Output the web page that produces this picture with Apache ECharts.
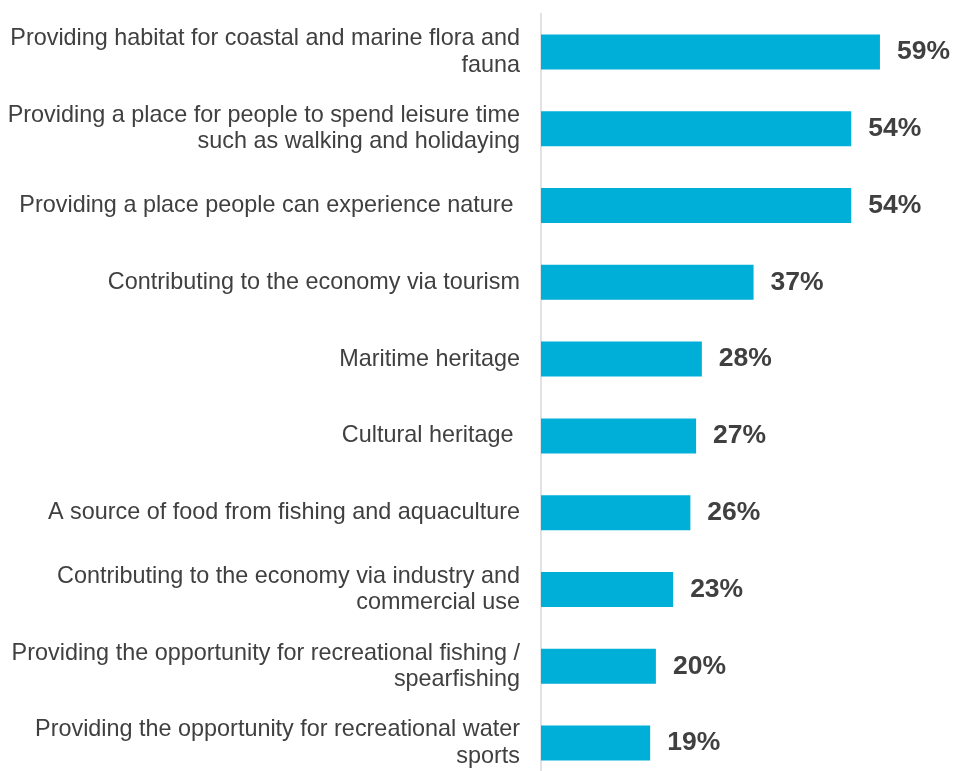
<!DOCTYPE html>
<html>
<head>
<meta charset="utf-8">
<script src="https://cdn.jsdelivr.net/npm/echarts@6/dist/echarts.min.js"></script>
<style>
  html, body { margin: 0; padding: 0; background: #ffffff; }
  #chart { width: 953px; height: 771px; }
</style>
</head>
<body>
<div id="chart"></div>
<script>
// Reasons the coast matters, share of respondents (%), top to bottom
const categories = [
  "Providing habitat for coastal and marine flora and\nfauna",
  "Providing a place for people to spend leisure time\nsuch as walking and holidaying",
  "Providing a place people can experience nature ",
  "Contributing to the economy via tourism",
  "Maritime heritage",
  "Cultural heritage ",
  "A source of food from fishing and aquaculture",
  "Contributing to the economy via industry and\ncommercial use",
  "Providing the opportunity for recreational fishing /\nspearfishing",
  "Providing the opportunity for recreational water\nsports"
];
const values = [59, 54, 54, 37, 28, 27, 26, 23, 20, 19];

const chart = echarts.init(document.getElementById('chart'), null, { renderer: 'canvas' });

chart.setOption({
  animation: false,
  backgroundColor: '#ffffff',
  grid: {
    left: 541, top: 13.5, width: 390, height: 768,
    containLabel: false,
    outerBoundsMode: 'none'
  },
  xAxis: {
    type: 'value',
    min: 0,
    max: 390 / 5.745,
    show: false
  },
  yAxis: {
    type: 'category',
    data: categories,
    inverse: true,
    offset: 3,
    axisLine: { show: true, lineStyle: { color: '#d9d9d9', width: 1.5 } },
    axisTick: { show: false },
    axisLabel: {
      margin: 18,
      color: '#404040',
      fontFamily: 'Liberation Sans, Arial, sans-serif',
      fontSize: 23.4,
      lineHeight: 26.5,
      align: 'right',
      padding: [3, 0, 0, 0]
    }
  },
  series: [{
    type: 'bar',
    data: values,
    barWidth: 35,
    itemStyle: { color: '#00AFD7' },
    label: {
      show: true,
      position: 'right',
      distance: 17,
      formatter: '{c}%',
      color: '#404040',
      fontFamily: 'Liberation Sans, Arial, sans-serif',
      fontWeight: 'bold',
      fontSize: 26.5
    }
  }]
});
</script>
</body>
</html>
